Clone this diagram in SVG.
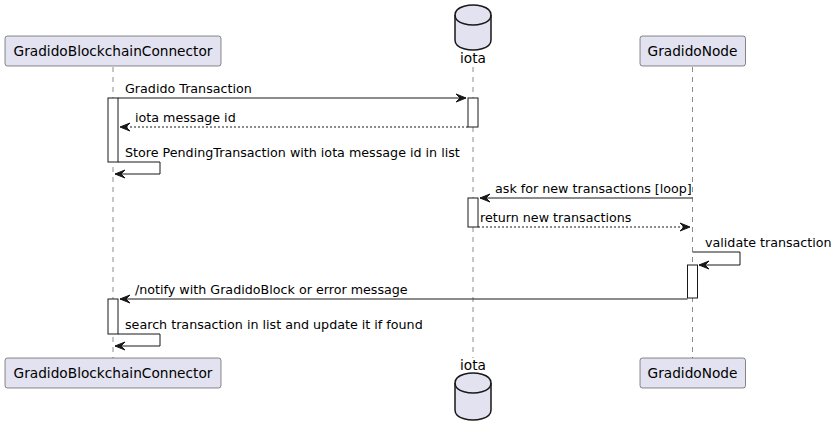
<svg xmlns="http://www.w3.org/2000/svg" width="837" height="436" viewBox="0 0 837 436">
<style>
.part{fill:#E2E2F0;stroke:#181818;stroke-width:0.5}
.life{stroke:#181818;stroke-width:0.5;stroke-dasharray:5,5;fill:none}
.act{fill:#FFFFFF;stroke:#181818;stroke-width:1}
.msg{stroke:#181818;stroke-width:1;fill:none}
.ret{stroke:#181818;stroke-width:1;fill:none;stroke-dasharray:2,2}
.head{fill:#181818;stroke:#181818;stroke-width:1}
.db{fill:#E2E2F0;stroke:#181818;stroke-width:1.5}
.pt{font-family:"DejaVu Sans",Verdana,sans-serif;font-size:13.7px;fill:#000000}
.mt{font-family:"DejaVu Sans",Verdana,sans-serif;font-size:12.7px;fill:#000000}
</style>
<rect width="837" height="436" fill="#FFFFFF"/>
<g id="lifelines">
<line class="life" x1="113" y1="67" x2="113" y2="358"/>
<line class="life" x1="473" y1="67" x2="473" y2="358"/>
<line class="life" x1="692.5" y1="67" x2="692.5" y2="358"/>
</g>
<g id="GradidoBlockchainConnector">
<rect class="part" x="5" y="36" width="216" height="30" rx="2.5"/>
<text class="pt" x="113" y="56" text-anchor="middle">GradidoBlockchainConnector</text>
<rect class="part" x="5" y="358" width="216" height="30" rx="2.5"/>
<text class="pt" x="113" y="378" text-anchor="middle">GradidoBlockchainConnector</text>
</g>
<g id="iota">
<path class="db" d="M455,15 C455,5 473,5 473,5 C473,5 491,5 491,15 L491,40 C491,50 473,50 473,50 C473,50 455,50 455,40 Z"/>
<path class="db" style="fill:none" d="M455,15 C455,25 473,25 473,25 C473,25 491,25 491,15"/>
<text class="pt" x="473" y="63" text-anchor="middle">iota</text>
<text class="pt" x="473" y="370" text-anchor="middle">iota</text>
<path class="db" d="M455,383 C455,373 473,373 473,373 C473,373 491,373 491,383 L491,410 C491,420 473,420 473,420 C473,420 455,420 455,410 Z"/>
<path class="db" style="fill:none" d="M455,383 C455,393 473,393 473,393 C473,393 491,393 491,383"/>
</g>
<g id="GradidoNode">
<rect class="part" x="640" y="36" width="105.5" height="30" rx="2.5"/>
<text class="pt" x="692.5" y="56" text-anchor="middle">GradidoNode</text>
<rect class="part" x="640" y="358" width="105.5" height="30" rx="2.5"/>
<text class="pt" x="692.5" y="378" text-anchor="middle">GradidoNode</text>
</g>
<g id="activations">
<rect class="act" x="108" y="98" width="10" height="64"/>
<rect class="act" x="468" y="98" width="10" height="29"/>
<rect class="act" x="468" y="198" width="10" height="29"/>
<rect class="act" x="687.5" y="265" width="10" height="33"/>
<rect class="act" x="108" y="299" width="10" height="35"/>
</g>
<g id="connectors">
<line class="msg" x1="118" y1="98" x2="466" y2="98"/>
<polygon class="head" points="456,94 466,98 456,102 460,98"/>
<text class="mt" x="125" y="93">Gradido Transaction</text>

<line class="ret" x1="468" y1="127" x2="120" y2="127"/>
<polygon class="head" points="130,123 120,127 130,131 126,127"/>
<text class="mt" x="135" y="122">iota message id</text>

<polyline class="msg" points="118,162 160,162 160,174 115,174"/>
<polygon class="head" points="125,170 115,174 125,178 121,174"/>
<text class="mt" x="125" y="157">Store PendingTransaction with iota message id in list</text>

<line class="msg" x1="692.5" y1="198" x2="480" y2="198"/>
<polygon class="head" points="490,194 480,198 490,202 486,198"/>
<text class="mt" x="495" y="193">ask for new transactions [loop]</text>

<line class="ret" x1="478" y1="227" x2="690" y2="227"/>
<polygon class="head" points="680,223 690,227 680,231 684,227"/>
<text class="mt" x="480" y="222">return new transactions</text>

<polyline class="msg" points="692.5,252 740,252 740,265 699,265"/>
<polygon class="head" points="709,261 699,265 709,269 705,265"/>
<text class="mt" x="705" y="247">validate transaction</text>

<line class="msg" x1="687.5" y1="299" x2="120" y2="299"/>
<polygon class="head" points="130,295 120,299 130,303 126,299"/>
<text class="mt" x="135" y="294">/notify with GradidoBlock or error message</text>

<polyline class="msg" points="118,334 160,334 160,346 115,346"/>
<polygon class="head" points="125,342 115,346 125,350 121,346"/>
<text class="mt" x="125" y="329">search transaction in list and update it if found</text>
</g>
</svg>
